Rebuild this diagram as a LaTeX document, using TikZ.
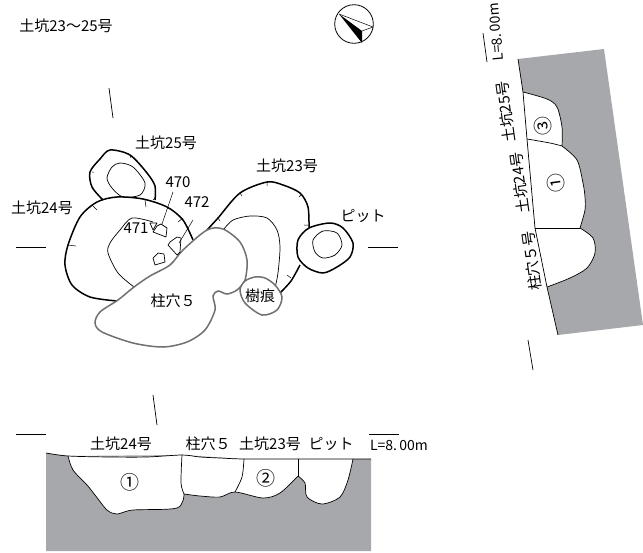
\documentclass[tikz,border=0pt]{standalone}
\usepackage{fontspec}
\setmainfont{Noto Sans CJK JP}
\usetikzlibrary{positioning}

\definecolor{soilgray}{HTML}{A7A8AB}
\definecolor{postgray}{HTML}{707070}

\tikzset{
	label/.style={inner sep=0pt,font=\fontsize{15}{15}\selectfont},
	levellabel/.style={inner sep=0pt,font=\fontsize{14}{14}\selectfont},
	layermark/.style={inner sep=0pt,font=\fontsize{19}{19}\selectfont},
	pit/.style={draw,line width=1.5pt,line join=round},
	thinline/.style={draw,line width=.7pt,line join=round},
	tick/.style={draw,line width=.5pt},
	post/.style={draw=postgray,fill=white,line width=1.5pt},
	soil/.style={fill=soilgray,draw=none}
}

\begin{document}
\begin{tikzpicture}[x=1pt,y=-1pt]

	\useasboundingbox (0,0) rectangle (643,552);

	% north mark
	\draw[line width=.8pt] (354,24) circle (19.3);
	\fill (339,14) -- (362,31) -- (362,43) -- cycle;
	\draw[line width=.5pt] (339,14) -- (373,27) -- (362,31);

	\node[label] (title) at (66,26) {土坑23〜25号};

	% center lines
	\draw[thinline] (16,247) -- (46,247);
	\draw[thinline] (368,247) -- (398,247);
	\draw[thinline] (109,88) -- (113,118);
	\draw[thinline] (153,395) -- (157,425);

	% pits
	\draw[pit] plot[smooth] coordinates {(103,200) (92,187) (90,172) (100,159) (110,150) (130,155) (147,173) (155,186) (155,200)};
	\draw[thinline] plot[smooth cycle] coordinates {(120,163) (133,167) (145,183) (140,195) (123,197) (112,188) (107,178) (112,167)};

	\draw[pit] plot[smooth] coordinates {(117,301) (90,297) (72,285) (65,265) (68,245) (80,217) (97,202) (117,197) (143,199) (167,207) (183,220) (193,240)};
	\draw[thinline] plot[smooth] coordinates {(134,287) (118,273) (108,253) (110,243) (120,230) (132,218) (153,222)};

	\draw[pit] plot[smooth] coordinates {(207,230) (218,218) (240,193) (267,182) (283,185) (300,193) (308,207) (309,228)};
	\draw[pit] plot[smooth] coordinates {(300,265) (291,281) (280,293)};
	\draw[thinline] plot[smooth] coordinates {(224,229) (233,220) (250,216) (267,218) (277,230) (280,247) (278,273) (275,288)};

	\draw[pit] plot[smooth cycle] coordinates {(309,228) (330,223) (343,228) (353,243) (350,257) (337,267) (323,273) (308,268) (298,257) (298,240)};
	\draw[thinline] plot[smooth cycle] coordinates {(323,231) (337,233) (342,245) (335,255) (323,258) (315,252) (313,240)};

	% ticks
	\draw[tick] (92,172) -- (94,172) (130,155) -- (131,158) (92,188) -- (94,188) (155,198) -- (153,200);
	\draw[tick] (92,205) -- (97,210) (145,200) -- (146,207) (68,245) -- (76,246) (178,222) -- (183,218);
	\draw[tick] (267,182) -- (267,186) (240,193) -- (242,196) (299,197) -- (302,194) (218,218) -- (220,221);
	\draw[tick] (309,225) -- (304,225) (287,275) -- (291,278);

	% post and tree mark
	\draw[post] plot[smooth cycle,tension=.5] coordinates {(207,230) (223,229) (240,242) (247,260) (245,280) (237,290) (227,294) (218,291) (213,296) (215,310) (205,330) (187,342) (163,347) (133,343) (102,332) (95,323) (100,312) (118,300) (134,287) (150,276) (170,265) (183,250)};
	\draw[post] plot[smooth cycle] coordinates {(255,277) (245,281) (240,290) (245,303) (262,315) (277,310) (282,297) (275,285) (265,278)};

	% stones
	\draw[thinline] (161,224) -- (167,228) -- (166,237) -- (153,232) -- (157,226) -- cycle;
	\draw[thinline] (150,223) -- (157,223) -- (153,230) -- cycle;
	\draw[thinline] (170,242) -- (177,237) -- (181,238) -- (180,252) -- (177,255) -- (168,245) -- cycle;
	\draw[thinline] (158,253) -- (164,254) -- (165,262) -- (155,265) -- (153,258) -- cycle;
	\draw[tick] (173,192) -- (162,224);
	\draw[tick] (193,220) -- (179,243);

	\node[label] (pit25) at (166,143) {土坑25号};
	\node[label] (pit24) at (42,208) {土坑24号};
	\node[label] (pit23) at (287,166) {土坑23号};
	\node[label] (pit) at (363,216) {ピット};
	\node[label] (stone470) at (178,182) {470};
	\node[label] (stone472) at (197,202) {472};
	\node[label] (stone471) at (136,228) {471};
	\node[label] (postname) at (173,301) {柱穴５};
	\node[label] (tree) at (260,296) {樹痕};

	% section below
	\fill[soil] (46,453) -- (68,456) -- (182,455) -- (244,459) -- (371,459) -- (371,551) -- (46,551) -- cycle;
	\fill[white] plot[smooth] coordinates {(68,456) (73,470) (87,485) (95,495) (107,510) (117,514) (133,510) (177,508) (184,494)}
		-- plot[smooth] coordinates {(184,494) (200,496) (220,497) (235,492) (263,498) (280,493) (298,476)}
		-- plot[smooth] coordinates {(298,476) (305,483) (307,497) (322,504) (340,497) (348,480) (353,459)}
		-- (297,459) -- (244,459) -- (220,458) -- (200,457) -- (182,455) -- (147,457) -- (110,457) -- cycle;
	\draw[thinline] plot[smooth] coordinates {(68,456) (73,470) (87,485) (95,495) (107,510) (117,514) (133,510) (177,508) (184,494)};
	\draw[thinline] plot[smooth] coordinates {(184,494) (200,496) (220,497) (235,492) (263,498) (280,493) (298,476)};
	\draw[thinline] plot[smooth] coordinates {(298,476) (305,483) (307,497) (322,504) (340,497) (348,480) (353,459)};
	\draw[thinline] plot[smooth] coordinates {(46,453) (68,456) (110,457) (147,457) (182,455) (200,457) (220,458) (244,459) (297,459) (371,459)};
	\draw[thinline] plot[smooth] coordinates {(182,455) (181,483) (184,494)};
	\draw[thinline] plot[smooth] coordinates {(244,459) (242,477) (235,492)};
	\draw[thinline] (298,459) -- (298,476);

	\draw[thinline] (16,434) -- (46,434);
	\draw[thinline] (369,434) -- (399,434);

	\node[label] (lowA) at (121,444) {土坑24号};
	\node[label] (lowB) at (208,444) {柱穴５};
	\node[label] (lowC) at (270,444) {土坑23号};
	\node[label] (lowD) at (331,444) {ピット};
	\node[levellabel] (lowlevel) at (399,445) {L=8.\,00m};
	\node[layermark] (lowone) at (130,482) {①};
	\node[layermark] (lowtwo) at (266,478) {②};

	% section right
	\fill[soil] (518,59) -- (604,49) -- (643,325) -- (558,335) -- (547,287) -- (535,228) -- (527,139) -- (523,92) -- cycle;
	\fill[white] plot[smooth] coordinates {(523,92) (547,99) (557,107) (562,127) (562,146)}
		-- plot[smooth] coordinates {(562,146) (577,160) (583,183) (585,197) (585,210) (580,228)}
		-- plot[smooth] coordinates {(580,228) (593,238) (595,253) (587,268) (570,278) (547,287)}
		-- (535,228) -- (527,139) -- cycle;
	\draw[thinline] plot[smooth] coordinates {(523,92) (547,99) (557,107) (562,127) (562,146)};
	\draw[thinline] plot[smooth] coordinates {(562,146) (577,160) (583,183) (585,197) (585,210) (580,228)};
	\draw[thinline] plot[smooth] coordinates {(580,228) (593,238) (595,253) (587,268) (570,278) (547,287)};
	\draw[thinline] (518,59) -- (523,92) -- (527,139) -- (535,228) -- (547,287) -- (558,335);
	\draw[thinline] plot[smooth] coordinates {(527,139) (550,143) (562,146)};
	\draw[thinline] (535,228) -- (580,228);
	\draw[thinline] (483,33) -- (487,62);
	\draw[thinline] (528,340) -- (533,370);

	\node[label,rotate=98] (rightA) at (506,112) {土坑25号};
	\node[label,rotate=98] (rightB) at (520,183) {土坑24号};
	\node[label,rotate=98] (rightC) at (532,261) {柱穴５号};
	\node[levellabel,rotate=95] (rightlevel) at (496,32) {L=8.\,00m};
	\node[layermark,rotate=98] (rightthree) at (543,126) {③};
	\node[layermark,rotate=98] (rightone) at (556,183) {①};

\end{tikzpicture}
\end{document}
